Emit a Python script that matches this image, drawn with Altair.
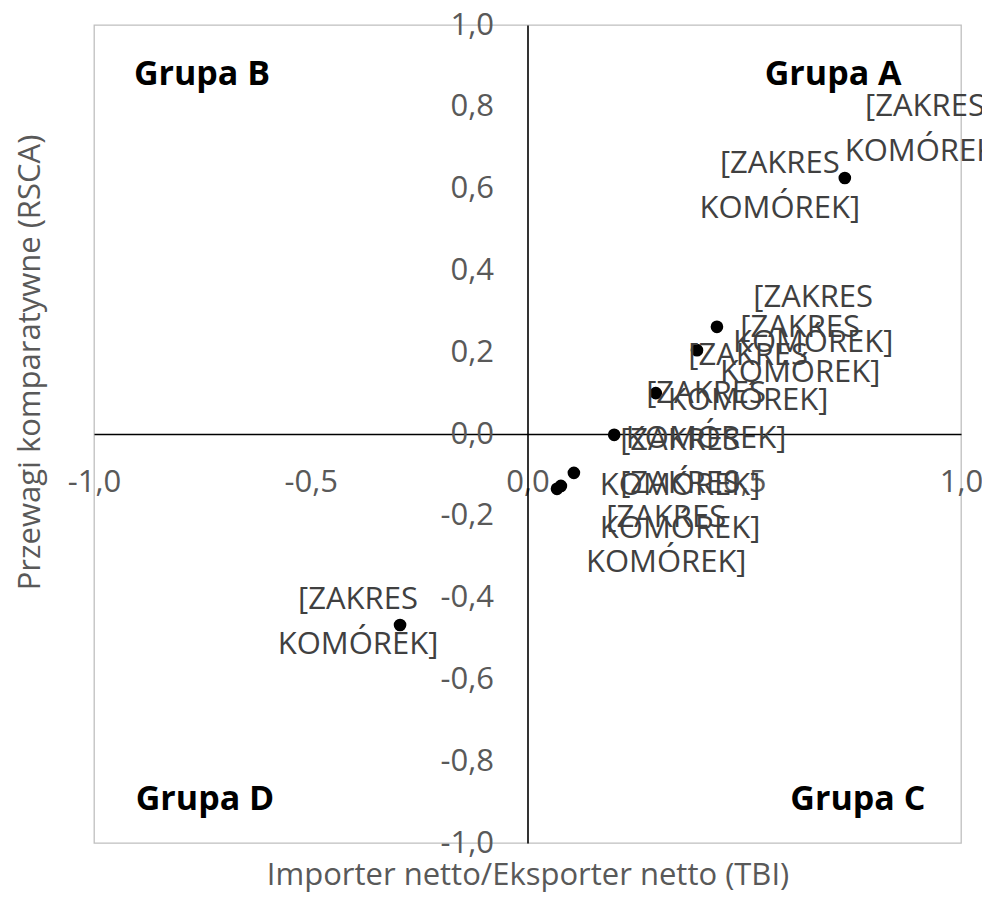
import altair as alt
import pandas as pd

# Data points (TBI, RSCA)
pt_x = [0.732, 0.437, 0.391, 0.296, 0.200, 0.107, 0.077, 0.068, -0.294]
pt_y = [0.626, 0.262, 0.205, 0.100, -0.002, -0.095, -0.127, -0.134, -0.467]

# Data labels (as placed in the original chart, in data units)
lbl_text = "[ZAKRES\nKOMÓREK]"
lbl_x = [0.917, 0.582, 0.659, 0.629, 0.509, 0.412, 0.352, 0.352, 0.320, -0.391]
lbl_y = [0.745, 0.606, 0.279, 0.205, 0.137, 0.044, -0.071, -0.176, -0.259, -0.460]

# Quadrant labels
grp_names = ["Grupa A", "Grupa B", "Grupa C", "Grupa D"]
grp_x = [0.705, -0.751, 0.762, -0.744]
grp_y = [0.878, 0.878, -0.895, -0.895]

x_ticks = [-1.0, -0.5, 0.0, 0.5, 1.0]
y_ticks = [-1.0, -0.8, -0.6, -0.4, -0.2, 0.0, 0.2, 0.4, 0.6, 0.8, 1.0]

x_title = "Importer netto/Eksporter netto (TBI)"
y_title = "Przewagi komparatywne (RSCA)"

FONT = "Open Sans"
label_expr = "(datum.value < 0 ? '-' : '') + replace(format(abs(datum.value), '.1f'), '.', ',')"

pts = pd.DataFrame({"x": pt_x, "y": pt_y})
lbls = pd.DataFrame({"x": lbl_x, "y": lbl_y, "t": [lbl_text] * len(lbl_x)})
grps = pd.DataFrame({"x": grp_x, "y": grp_y, "t": grp_names})

xs = alt.Scale(domain=[-1, 1], nice=False, zero=False)
ys = alt.Scale(domain=[-1, 1], nice=False, zero=False)

x_axis = alt.Axis(
    values=x_ticks, labelExpr=label_expr, orient="bottom", offset=-409,
    domainColor="black", domainWidth=1.6, ticks=False, grid=False,
    labelPadding=33, labelFontSize=31, labelColor="#595959", labelFont=FONT,
    labelFlush=False, labelOverlap=False,
    title=x_title, titleFontSize=31, titleFontWeight="normal", titleColor="#595959",
    titleFont=FONT, titleY=441, titleBaseline="middle",
)
y_axis = alt.Axis(
    values=y_ticks, labelExpr=label_expr, orient="left", offset=-433.5,
    domainColor="black", domainWidth=1.6, ticks=False, grid=False,
    labelPadding=34, labelFontSize=31, labelColor="#595959", labelFont=FONT,
    labelFlush=False, labelOverlap=False,
    title=y_title, titleFontSize=31, titleFontWeight="normal", titleColor="#595959",
    titleFont=FONT, titleX=-497, titleY=337, titleBaseline="middle", titleAngle=-90,
)

points = alt.Chart(pts).mark_circle(size=160, color="black", opacity=1).encode(
    x=alt.X("x:Q", scale=xs, axis=x_axis),
    y=alt.Y("y:Q", scale=ys, axis=y_axis),
)

labels = alt.Chart(lbls).mark_text(
    lineBreak="\n", fontSize=31, font=FONT, color="#404040",
    align="center", baseline="middle", lineHeight=45, dy=-22,
).encode(x=alt.X("x:Q", scale=xs), y=alt.Y("y:Q", scale=ys), text="t:N")

groups = alt.Chart(grps).mark_text(
    fontSize=34, fontWeight="bold", font=FONT, color="black",
    align="center", baseline="middle",
).encode(x=alt.X("x:Q", scale=xs), y=alt.Y("y:Q", scale=ys), text="t:N")

chart = alt.layer(points, labels, groups).properties(
    width=867, height=818,
    autosize=alt.AutoSizeParams(type="none"),
    padding={"left": 86, "top": 17, "right": 21, "bottom": 49},
).configure_view(stroke="#BFBFBF", strokeWidth=1.3)

chart.save("out.html", embed_options={"renderer": "svg", "actions": False})
